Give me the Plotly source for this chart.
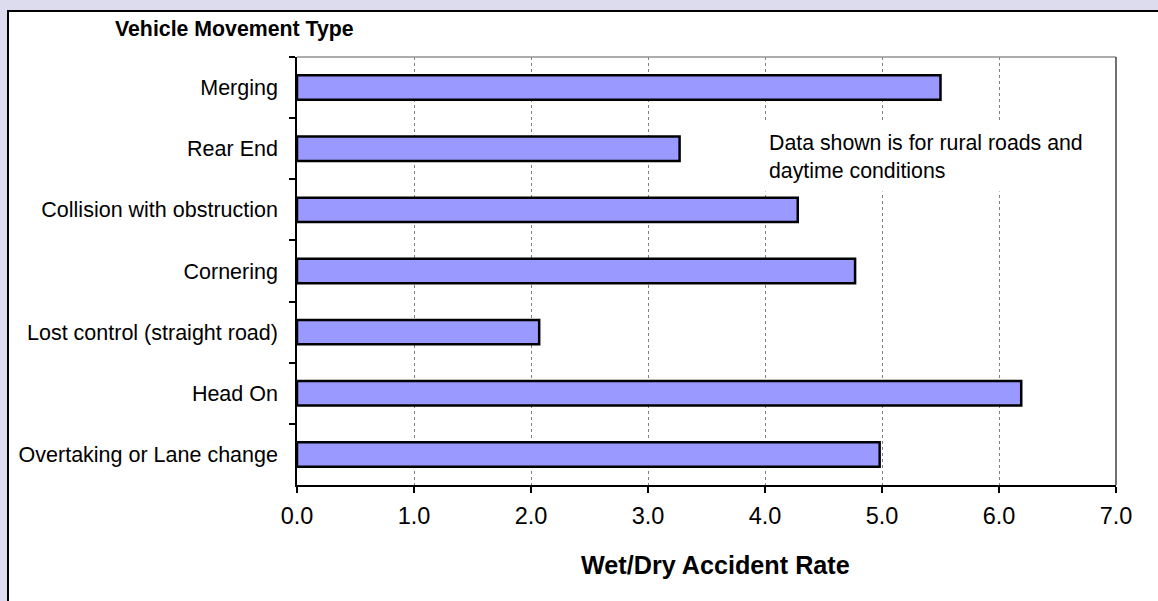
import plotly.graph_objects as go

categories = ["Merging", "Rear End", "Collision with obstruction", "Cornering",
              "Lost control (straight road)", "Head On", "Overtaking or Lane change"]
rates = [5.50, 3.27, 4.28, 4.77, 2.07, 6.19, 4.98]
x_ticks = [0, 1, 2, 3, 4, 5, 6, 7]
x_title = "Wet/Dry Accident Rate"
y_title = "Vehicle Movement Type"
note = "Data shown is for rural roads and<br>daytime conditions"

FONT = "Arial, 'Liberation Sans', sans-serif"

fig = go.Figure(go.Bar(
    x=rates, y=categories, orientation="h",
    marker=dict(color="#9999FF", line=dict(color="black", width=2.5)),
    width=0.4,
))

W, H = 1158, 601
L, R, T, B = 297, 42, 57, 116
pw, ph = W - L - R, H - T - B

def px(xp):
    return (xp - L) / pw

def py(yp):
    return (H - B - yp) / ph

fig.update_layout(
    width=W, height=H,
    margin=dict(l=L, r=R, t=T, b=B, pad=0),
    paper_bgcolor="#DDDBEE",
    plot_bgcolor="white",
    showlegend=False,
    font=dict(family=FONT, color="black"),
    xaxis=dict(
        range=[0, 7], tickvals=x_ticks, tickformat=".1f",
        showgrid=True, gridcolor="#808080", griddash="dot", gridwidth=1,
        zeroline=False, showline=True, linecolor="black", linewidth=1.5,
        ticks="outside", ticklen=6, tickcolor="black", tickwidth=1.5,
        tickfont=dict(size=23.5, family=FONT), ticklabelstandoff=3,
        fixedrange=True,
    ),
    yaxis=dict(
        autorange="reversed", showgrid=False, zeroline=False,
        showline=True, linecolor="black", linewidth=1.5,
        ticks="outside", tickson="boundaries", ticklen=6, tickcolor="black", tickwidth=1.5,
        tickfont=dict(size=21.5, family=FONT), ticklabelstandoff=13,
        fixedrange=True,
    ),
    shapes=[
        # white chart box with border
        dict(type="rect", xref="paper", yref="paper", layer="below",
             x0=px(8), x1=px(1210), y0=py(660), y1=py(11),
             fillcolor="white", line=dict(color="black", width=2)),
        # top border of plot area
        dict(type="line", xref="paper", yref="paper", x0=0, x1=1, y0=1, y1=1,
             line=dict(color="#909090", width=1.5)),
        # right border of plot area
        dict(type="line", xref="paper", yref="paper", x0=1, x1=1, y0=0, y1=1,
             line=dict(color="#404040", width=1.5)),
    ],
    annotations=[
        dict(text="<b>" + y_title + "</b>", xref="paper", yref="paper",
             x=px(113), y=py(29), xanchor="left", yanchor="middle",
             showarrow=False, font=dict(size=21.3, family=FONT)),
        dict(text="<b>" + x_title + "</b>", xref="paper", yref="paper",
             x=px(715), y=py(565), xanchor="center", yanchor="middle",
             showarrow=False, font=dict(size=25.2, family=FONT)),
        dict(text=note, xref="paper", yref="paper", align="left",
             x=px(760), y=py(157), xanchor="left", yanchor="middle",
             showarrow=False, bgcolor="white", borderpad=8,
             font=dict(size=21.3, family=FONT)),
    ],
)

fig.write_html(
    "out.html",
    config={"displayModeBar": False},
    post_script="document.body.style.margin='0';document.body.style.overflow='hidden';",
)
